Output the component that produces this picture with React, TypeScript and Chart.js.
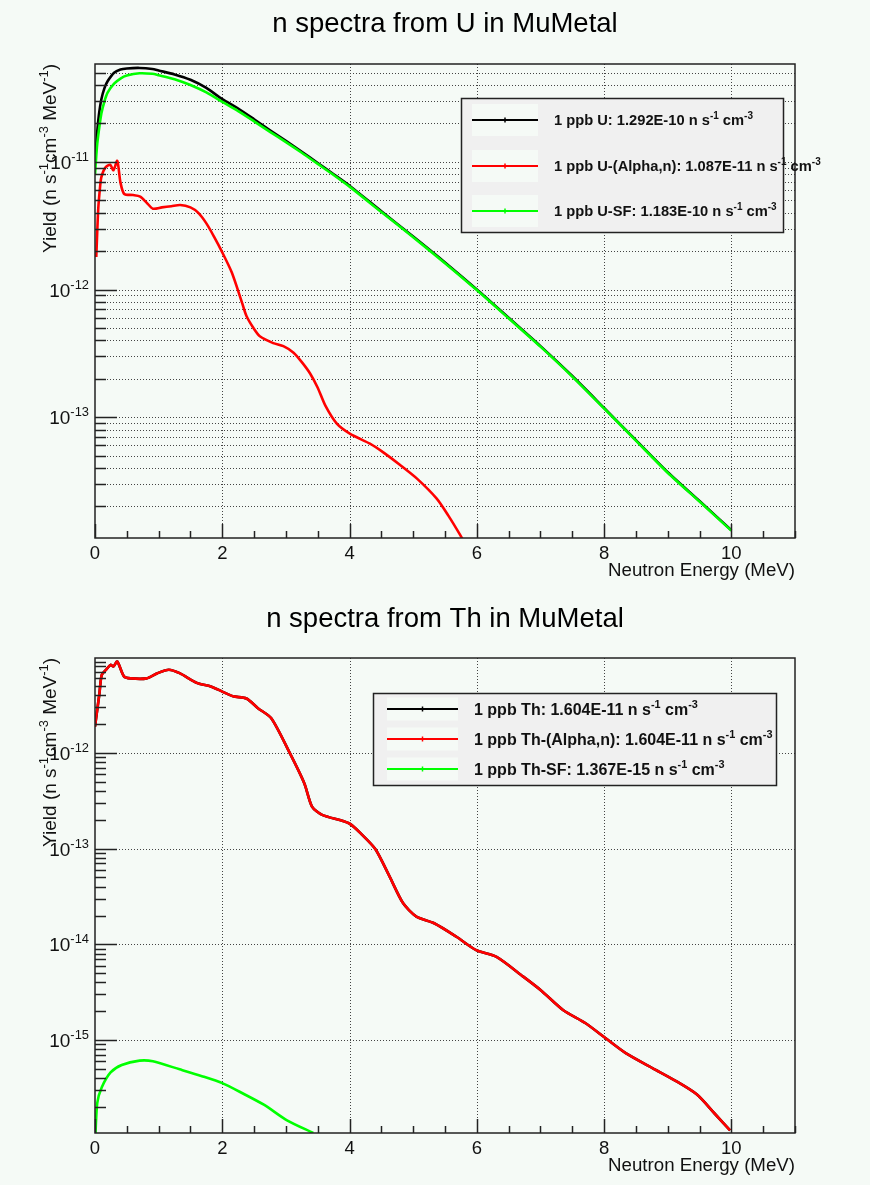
import React, { useEffect, useRef } from "react";
import { Chart, registerables } from "chart.js";

Chart.register(...registerables);

// ---------------- Data ----------------
// Uranium chart
const uTotalEnergy = [0, 0.03, 0.06, 0.1, 0.15, 0.2, 0.3, 0.4, 0.5, 0.7, 0.9, 1.0, 1.25, 1.5, 1.75, 2.0, 2.25, 2.5, 2.75, 3.0, 3.25, 3.5, 3.75, 4.0, 4.5, 5.0, 5.5, 6.0, 6.5, 7.0, 7.5, 8.0, 8.5, 9.0, 9.5, 10.0];
const uTotalYield = [9.7e-12, 1.6e-11, 2.3e-11, 3.1e-11, 3.8e-11, 4.3e-11, 5.0e-11, 5.3e-11, 5.4e-11, 5.45e-11, 5.35e-11, 5.2e-11, 4.85e-11, 4.4e-11, 3.8e-11, 3.1e-11, 2.62e-11, 2.16e-11, 1.77e-11, 1.46e-11, 1.2e-11, 9.8e-12, 8.0e-12, 6.5e-12, 4.1e-12, 2.6e-12, 1.63e-12, 1.0e-12, 6.0e-13, 3.6e-13, 2.1e-13, 1.18e-13, 6.6e-14, 3.7e-14, 2.2e-14, 1.3e-14];

const uSfEnergy = [0, 0.03, 0.06, 0.1, 0.15, 0.2, 0.3, 0.4, 0.5, 0.7, 0.9, 1.0, 1.25, 1.5, 1.75, 2.0, 2.25, 2.5, 2.75, 3.0, 3.25, 3.5, 3.75, 4.0, 4.5, 5.0, 5.5, 6.0, 6.5, 7.0, 7.5, 8.0, 8.5, 9.0, 9.5, 10.0];
const uSfYield = [7.9e-12, 1.3e-11, 1.75e-11, 2.4e-11, 3.0e-11, 3.5e-11, 4.1e-11, 4.5e-11, 4.75e-11, 4.95e-11, 4.9e-11, 4.78e-11, 4.45e-11, 4.0e-11, 3.5e-11, 2.95e-11, 2.5e-11, 2.08e-11, 1.72e-11, 1.43e-11, 1.18e-11, 9.65e-12, 7.9e-12, 6.4e-12, 4.05e-12, 2.57e-12, 1.61e-12, 9.9e-13, 5.95e-13, 3.57e-13, 2.08e-13, 1.17e-13, 6.55e-14, 3.67e-14, 2.18e-14, 1.29e-14];

const uAlphaEnergy = [0.02, 0.05, 0.08, 0.1, 0.16, 0.24, 0.29, 0.35, 0.40, 0.46, 0.6, 0.71, 0.81, 0.91, 1.05, 1.2, 1.34, 1.5, 1.62, 1.75, 1.87, 1.99, 2.15, 2.31, 2.38, 2.5, 2.59, 2.8, 2.96, 3.12, 3.25, 3.38, 3.5, 3.62, 3.8, 4.01, 4.32, 4.53, 4.8, 5.06, 5.37, 5.55, 5.74, 5.85];
const uAlphaYield = [1.8e-12, 4.2e-12, 6.4e-12, 7.6e-12, 9.0e-12, 9.5e-12, 8.6e-12, 1.02e-11, 6.9e-12, 5.6e-12, 5.5e-12, 5.35e-12, 4.8e-12, 4.3e-12, 4.4e-12, 4.5e-12, 4.6e-12, 4.4e-12, 4.0e-12, 3.3e-12, 2.6e-12, 2.0e-12, 1.36e-12, 7.9e-13, 6.2e-13, 4.9e-13, 4.3e-13, 3.8e-13, 3.6e-13, 3.2e-13, 2.7e-13, 2.2e-13, 1.7e-13, 1.23e-13, 8.9e-14, 7.4e-14, 6.2e-14, 5.3e-14, 4.2e-14, 3.3e-14, 2.3e-14, 1.7e-14, 1.19e-14, 9.5e-15];

// Thorium chart
const thAlphaEnergy = [0, 0.07, 0.105, 0.175, 0.245, 0.29, 0.35, 0.455, 0.56, 0.81, 0.98, 1.16, 1.33, 1.61, 1.82, 2.0, 2.17, 2.38, 2.56, 2.77, 3.05, 3.29, 3.41, 3.57, 3.99, 4.2, 4.41, 4.63, 4.84, 5.05, 5.33, 5.68, 5.99, 6.31, 6.73, 7.01, 7.36, 7.71, 8.02, 8.34, 8.76, 9.11, 9.46, 9.74, 9.98];
const thAlphaYield = [1.88e-12, 4.2e-12, 6.5e-12, 7.4e-12, 8.3e-12, 8.0e-12, 9.0e-12, 6.3e-12, 6.0e-12, 6.0e-12, 6.8e-12, 7.4e-12, 6.8e-12, 5.35e-12, 4.95e-12, 4.37e-12, 3.9e-12, 3.7e-12, 2.93e-12, 2.3e-12, 1.03e-12, 4.8e-13, 2.75e-13, 2.25e-13, 1.84e-13, 1.39e-13, 9.8e-14, 5.1e-14, 2.7e-14, 1.95e-14, 1.66e-14, 1.2e-14, 8.7e-15, 7.4e-15, 4.6e-15, 3.3e-15, 2.05e-15, 1.5e-15, 1.05e-15, 7.3e-16, 5.1e-16, 3.8e-16, 2.7e-16, 1.7e-16, 1.14e-16];

const thTotalEnergy = [0, 0.07, 0.105, 0.175, 0.245, 0.29, 0.35, 0.455, 0.56, 0.81, 0.98, 1.16, 1.33, 1.61, 1.82, 2.0, 2.17, 2.38, 2.56, 2.77, 3.05, 3.29, 3.41, 3.57, 3.99, 4.2, 4.41, 4.63, 4.84, 5.05, 5.33, 5.68, 5.99, 6.31, 6.73, 7.01, 7.36, 7.71, 8.02, 8.34, 8.76, 9.11, 9.46, 9.74, 9.98];
const thTotalYield = [1.88e-12, 4.2e-12, 6.5e-12, 7.4e-12, 8.3e-12, 8.0e-12, 9.0e-12, 6.3e-12, 6.0e-12, 6.0e-12, 6.8e-12, 7.4e-12, 6.8e-12, 5.35e-12, 4.95e-12, 4.37e-12, 3.9e-12, 3.7e-12, 2.93e-12, 2.3e-12, 1.03e-12, 4.8e-13, 2.75e-13, 2.25e-13, 1.84e-13, 1.39e-13, 9.8e-14, 5.1e-14, 2.7e-14, 1.95e-14, 1.66e-14, 1.2e-14, 8.7e-15, 7.4e-15, 4.6e-15, 3.3e-15, 2.05e-15, 1.5e-15, 1.05e-15, 7.3e-16, 5.1e-16, 3.8e-16, 2.7e-16, 1.7e-16, 1.14e-16];

const thSfEnergy = [0, 0.035, 0.105, 0.245, 0.42, 0.70, 0.91, 1.33, 1.68, 2.0, 2.31, 2.66, 3.01, 3.43];
const thSfYield = [8e-17, 2.2e-16, 3.2e-16, 4.6e-16, 5.5e-16, 6.1e-16, 6.0e-16, 4.95e-16, 4.2e-16, 3.55e-16, 2.8e-16, 2.1e-16, 1.46e-16, 1.07e-16];

// Axis ticks
const xMajorTicks = [0, 2, 4, 6, 8, 10];
const xTickLabels = ["0", "2", "4", "6", "8", "10"];

// Legend texts
const uLegendNames = ["1 ppb U: 1.292E-10 n s", "1 ppb U-(Alpha,n): 1.087E-11 n s", "1 ppb U-SF: 1.183E-10 n s"];
const thLegendNames = ["1 ppb Th: 1.604E-11 n s", "1 ppb Th-(Alpha,n): 1.604E-11 n s", "1 ppb Th-SF: 1.367E-15 n s"];

// ---------------- Styling ----------------
const BG = "#f5faf6";
const FONT = "'Liberation Sans', Arial, Helvetica, sans-serif";
const BLACK = "#000000";
const RED = "#ff0000";
const GREEN = "#00ff00";

type Seg = { t: string; sup?: boolean };

function segFont(size: number, weight: string, sup?: boolean) {
  const s = sup ? size * 0.68 : size;
  return `${weight} ${s}px ${FONT}`;
}
function measureRich(ctx: CanvasRenderingContext2D, segs: Seg[], size: number, weight: string) {
  let w = 0;
  for (const s of segs) {
    ctx.font = segFont(size, weight, s.sup);
    w += ctx.measureText(s.t).width;
  }
  return w;
}
function drawRich(ctx: CanvasRenderingContext2D, segs: Seg[], x: number, y: number, size: number, weight: string) {
  let cx = x;
  ctx.textAlign = "left";
  ctx.textBaseline = "alphabetic";
  for (const s of segs) {
    ctx.font = segFont(size, weight, s.sup);
    ctx.fillText(s.t, cx, s.sup ? y - size * 0.42 : y);
    cx += ctx.measureText(s.t).width;
  }
  return cx - x;
}

type LegendCfg = {
  box: [number, number, number, number];
  sample: [number, number];
  sampleH: number;
  rows: number[];
  textX: number;
  size: number;
  names: string[];
  colors: string[];
};

type ChartCfg = {
  height: number;
  padTop: number;
  padBottom: number;
  yMin: number;
  yMax: number;
  minorGrid: boolean;
  title: string;
  titleY: number;
  datasets: { label: string; energy: number[]; yield: number[]; color: string; order: number }[];
  legend: LegendCfg;
};

const yTitle: Seg[] = [
  { t: "Yield (n s" },
  { t: "-1", sup: true },
  { t: "cm" },
  { t: "-3", sup: true },
  { t: " MeV" },
  { t: "-1", sup: true },
  { t: ")" },
];

const framePlugin = {
  id: "rootFrame",
  beforeDraw(chart: any) {
    const ctx = chart.ctx as CanvasRenderingContext2D;
    ctx.save();
    ctx.fillStyle = BG;
    ctx.fillRect(0, 0, chart.width, chart.height);
    ctx.restore();
  },
  beforeDatasetsDraw(chart: any) {
    const cfg: ChartCfg = chart.options.plugins.rootFrame.cfg;
    const ctx = chart.ctx as CanvasRenderingContext2D;
    const { left, right, top, bottom } = chart.chartArea;
    const xs = chart.scales.x;
    const ys = chart.scales.y;
    ctx.save();
    ctx.strokeStyle = "#444";
    ctx.lineWidth = 1;
    ctx.setLineDash([1, 2]);
    for (const v of xMajorTicks) {
      if (v === 0) continue;
      const px = Math.round(xs.getPixelForValue(v)) + 0.5;
      ctx.beginPath();
      ctx.moveTo(px, top);
      ctx.lineTo(px, bottom);
      ctx.stroke();
    }
    const n0 = Math.floor(Math.log10(cfg.yMin));
    const n1 = Math.ceil(Math.log10(cfg.yMax));
    for (let n = n0; n <= n1; n++) {
      for (let k = 1; k <= 9; k++) {
        if (!cfg.minorGrid && k !== 1) continue;
        const v = k * Math.pow(10, n);
        if (v < cfg.yMin || v > cfg.yMax) continue;
        const py = Math.round(ys.getPixelForValue(v)) + 0.5;
        ctx.beginPath();
        ctx.moveTo(left, py);
        ctx.lineTo(right, py);
        ctx.stroke();
      }
    }
    ctx.restore();
  },
  afterDatasetsDraw(chart: any) {
    const cfg: ChartCfg = chart.options.plugins.rootFrame.cfg;
    const ctx = chart.ctx as CanvasRenderingContext2D;
    const { left, right, top, bottom } = chart.chartArea;
    const xs = chart.scales.x;
    const ys = chart.scales.y;
    ctx.save();
    // frame
    ctx.strokeStyle = "#222";
    ctx.lineWidth = 1.5;
    ctx.strokeRect(left, top, right - left, bottom - top);
    // y ticks
    ctx.lineWidth = 1.5;
    const n0 = Math.floor(Math.log10(cfg.yMin));
    const n1 = Math.ceil(Math.log10(cfg.yMax));
    for (let n = n0; n <= n1; n++) {
      for (let k = 1; k <= 9; k++) {
        const v = k * Math.pow(10, n);
        if (v < cfg.yMin || v > cfg.yMax) continue;
        const py = Math.round(ys.getPixelForValue(v)) + 0.5;
        const len = k === 1 ? 22 : 11;
        ctx.beginPath();
        ctx.moveTo(left, py);
        ctx.lineTo(left + len, py);
        ctx.stroke();
        if (k === 1) {
          ctx.fillStyle = "#111";
          const segs: Seg[] = [{ t: "10" }, { t: String(n), sup: true }];
          const w = measureRich(ctx, segs, 19, "normal");
          drawRich(ctx, segs, left - 6 - w, py + 6.5, 19, "normal");
        }
      }
    }
    // x ticks
    for (let i = 0; i <= 22; i++) {
      const v = i * 0.5;
      const px = Math.round(xs.getPixelForValue(v)) + 0.5;
      const len = i % 4 === 0 ? 14 : 7;
      ctx.beginPath();
      ctx.moveTo(px, bottom);
      ctx.lineTo(px, bottom - len);
      ctx.stroke();
    }
    ctx.fillStyle = "#111";
    ctx.font = `normal 18.5px ${FONT}`;
    ctx.textAlign = "center";
    ctx.textBaseline = "alphabetic";
    xMajorTicks.forEach((v, i) => {
      ctx.fillText(xTickLabels[i], xs.getPixelForValue(v), bottom + 21);
    });
    // x title
    ctx.textAlign = "right";
    ctx.font = `normal 18.7px ${FONT}`;
    ctx.fillText("Neutron Energy (MeV)", right, bottom + 38);
    // y title (rotated, aligned to top)
    const tw = measureRich(ctx, yTitle, 19, "normal");
    ctx.save();
    ctx.translate(56, top);
    ctx.rotate(-Math.PI / 2);
    drawRich(ctx, yTitle, -tw, 0, 19, "normal");
    ctx.restore();
    // chart title
    ctx.fillStyle = "#000";
    ctx.font = `normal 27.5px ${FONT}`;
    ctx.textAlign = "center";
    ctx.fillText(cfg.title, 445, cfg.titleY);
    // legend
    const L = cfg.legend;
    const [bx0, by0, bx1, by1] = L.box;
    ctx.fillStyle = "#f0f0f0";
    ctx.fillRect(bx0, by0, bx1 - bx0, by1 - by0);
    ctx.strokeStyle = "#222";
    ctx.lineWidth = 1.5;
    ctx.strokeRect(bx0 + 0.5, by0 + 0.5, bx1 - bx0 - 1, by1 - by0 - 1);
    L.rows.forEach((ry, i) => {
      ctx.fillStyle = BG;
      ctx.fillRect(L.sample[0], ry - L.sampleH / 2, L.sample[1] - L.sample[0], L.sampleH);
      ctx.strokeStyle = L.colors[i];
      ctx.lineWidth = 2;
      ctx.beginPath();
      ctx.moveTo(L.sample[0], ry);
      ctx.lineTo(L.sample[1], ry);
      ctx.stroke();
      const mx = (L.sample[0] + L.sample[1]) / 2;
      ctx.lineWidth = 1.5;
      ctx.beginPath();
      ctx.moveTo(mx, ry - 2.5);
      ctx.lineTo(mx, ry + 2.5);
      ctx.stroke();
      ctx.fillStyle = "#111";
      const segs: Seg[] = [{ t: L.names[i] }, { t: "-1", sup: true }, { t: " cm" }, { t: "-3", sup: true }];
      drawRich(ctx, segs, L.textX, ry + L.size * 0.36, L.size, "bold");
    });
    ctx.restore();
  },
};

function SpectrumChart({ cfg }: { cfg: ChartCfg }) {
  const ref = useRef<HTMLCanvasElement>(null);
  useEffect(() => {
    const canvas = ref.current!;
    const chart = new Chart(canvas, {
      type: "line",
      data: {
        datasets: cfg.datasets.map((d) => ({
          label: d.label,
          data: d.energy.map((e, i) => ({ x: e, y: d.yield[i] })),
          borderColor: d.color,
          backgroundColor: d.color,
          borderWidth: 2.6,
          pointRadius: 0,
          tension: 0.25,
          fill: false,
          order: d.order,
        })),
      },
      options: {
        responsive: false,
        animation: false,
        devicePixelRatio: 1,
        layout: { padding: { left: 95, right: 75, top: cfg.padTop, bottom: cfg.padBottom } },
        scales: {
          x: { type: "linear", min: 0, max: 11, display: false },
          y: { type: "logarithmic", min: cfg.yMin, max: cfg.yMax, display: false },
        },
        plugins: {
          legend: { display: false },
          tooltip: { enabled: false },
          title: { display: false },
          rootFrame: { cfg },
        } as any,
      },
      plugins: [framePlugin],
    });
    return () => chart.destroy();
  }, [cfg]);
  return (
    <canvas
      ref={ref}
      width={870}
      height={cfg.height}
      style={{ display: "block", width: 870, height: cfg.height }}
    />
  );
}

const uCfg: ChartCfg = {
  height: 592,
  padTop: 64,
  padBottom: 54,
  yMin: 1.13e-14,
  yMax: 5.85e-11,
  minorGrid: true,
  title: "n spectra from U in MuMetal",
  titleY: 32,
  datasets: [
    { label: "U total", energy: uTotalEnergy, yield: uTotalYield, color: BLACK, order: 3 },
    { label: "U alpha,n", energy: uAlphaEnergy, yield: uAlphaYield, color: RED, order: 2 },
    { label: "U SF", energy: uSfEnergy, yield: uSfYield, color: GREEN, order: 1 },
  ],
  legend: {
    box: [461, 98, 784, 233],
    sample: [472, 538],
    sampleH: 32,
    rows: [120, 166, 211],
    textX: 554,
    size: 14.7,
    names: uLegendNames,
    colors: [BLACK, RED, GREEN],
  },
};

const thCfg: ChartCfg = {
  height: 593,
  padTop: 66,
  padBottom: 52,
  yMin: 1.07e-16,
  yMax: 9.8e-12,
  minorGrid: false,
  title: "n spectra from Th in MuMetal",
  titleY: 35,
  datasets: [
    { label: "Th total", energy: thTotalEnergy, yield: thTotalYield, color: BLACK, order: 3 },
    { label: "Th alpha,n", energy: thAlphaEnergy, yield: thAlphaYield, color: RED, order: 2 },
    { label: "Th SF", energy: thSfEnergy, yield: thSfYield, color: GREEN, order: 1 },
  ],
  legend: {
    box: [373, 101, 777, 194],
    sample: [387, 458],
    sampleH: 23,
    rows: [117, 147, 177],
    textX: 474,
    size: 16,
    names: thLegendNames,
    colors: [BLACK, RED, GREEN],
  },
};

export default function App() {
  return (
    <div
      style={{
        position: "absolute",
        left: 0,
        top: 0,
        width: 870,
        height: 1185,
        background: BG,
        overflow: "hidden",
      }}
    >
      <SpectrumChart cfg={uCfg} />
      <SpectrumChart cfg={thCfg} />
    </div>
  );
}
